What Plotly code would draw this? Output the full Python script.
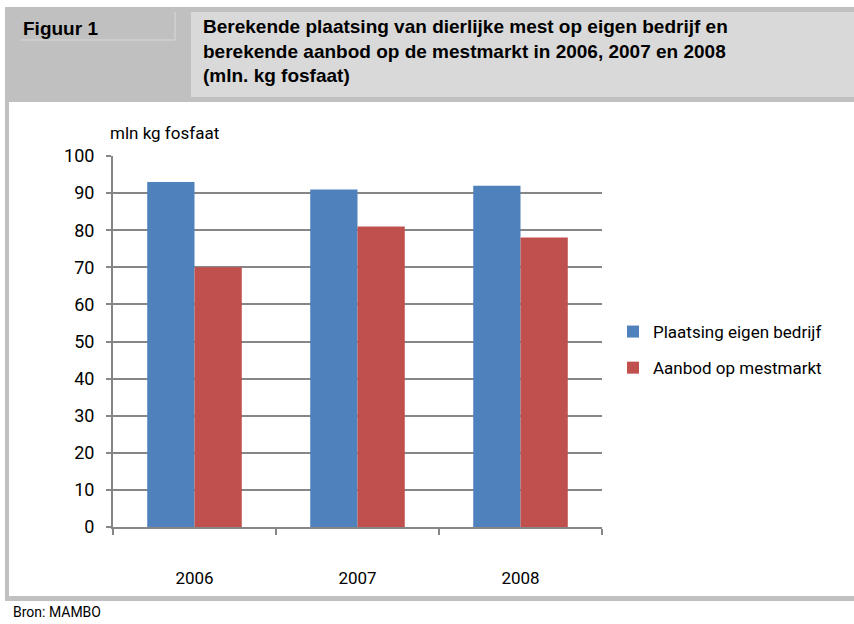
import plotly.graph_objects as go

JAREN = ["2006", "2007", "2008"]
PLAATSING = [93, 91, 92]
AANBOD = [70, 81, 78]
Y_TICKS = [0, 10, 20, 30, 40, 50, 60, 70, 80, 90, 100]

_BLAUW = "#4f81bd"
_ROOD = "#c0504d"
_RAND = "#c0c0c0"
_CEL = "#d9d9d9"
_AS = "#868686"
_FONT = "Roboto, Liberation Sans, sans-serif"
_KOP = "Liberation Sans, Arial, sans-serif"

W, H = 854, 624
L, R, T, B = 113, 602, 156, 527


def _px(x):
    return (x - L) / (R - L)


def _py(y):
    return (B - y) / (B - T)


def _rect(x0, y0, x1, y1, kleur):
    return dict(type="rect", xref="paper", yref="paper", layer="below",
                x0=_px(x0), x1=_px(x1), y0=_py(y1), y1=_py(y0),
                fillcolor=kleur, line_width=0)


fig = go.Figure()
fig.add_trace(go.Bar(x=JAREN, y=PLAATSING, name="Plaatsing eigen bedrijf", legendgroup="a",
                     marker=dict(color=_BLAUW, line=dict(width=0))))
fig.add_trace(go.Bar(x=JAREN, y=AANBOD, name="Aanbod op mestmarkt", legendgroup="b",
                     marker=dict(color=_ROOD, line=dict(width=0))))

shapes = [
    _rect(5, 7, 854, 102, _RAND),          # kopband
    _rect(191, 12, 854, 97, _CEL),         # titelcel
    _rect(5, 102, 9, 601, _RAND),          # linkerrand
    _rect(5, 596, 854, 601, _RAND),        # onderrand
    dict(type="line", xref="paper", yref="paper", layer="below",
         x0=_px(21), x1=_px(175), y0=_py(40), y1=_py(40), line=dict(color=_CEL, width=1)),
    dict(type="line", xref="paper", yref="paper", layer="below",
         x0=_px(175), x1=_px(175), y0=_py(12), y1=_py(40), line=dict(color=_CEL, width=1)),
]

annotations = [
    dict(text="<b>Figuur 1</b>", x=_px(21), y=_py(28), xanchor="left", yanchor="middle",
         font=dict(size=19, color="#000000", family=_KOP)),
    dict(text="<b>Berekende plaatsing van dierlijke mest op eigen bedrijf en<br>"
              "berekende aanbod op de mestmarkt in 2006, 2007 en 2008<br>"
              "(mln. kg fosfaat)</b>",
         x=_px(201), y=_py(14), xanchor="left", yanchor="top", align="left",
         font=dict(size=19, color="#000000", family=_KOP)),
    dict(text="mln kg fosfaat", x=_px(108), y=_py(133), xanchor="left", yanchor="middle",
         font=dict(size=17, color="#000000")),
    dict(text="Bron: MAMBO", x=_px(11), y=_py(612), xanchor="left", yanchor="middle",
         font=dict(size=14, color="#000000")),
]
for a in annotations:
    a.update(xref="paper", yref="paper", showarrow=False)

fig.update_layout(
    width=W, height=H,
    margin=dict(l=L, r=W - R, t=T, b=H - B, pad=0),
    paper_bgcolor="#ffffff",
    plot_bgcolor="rgba(0,0,0,0)",
    font=dict(family=_FONT, size=17, color="#000000"),
    barmode="group",
    bargap=0.42,
    bargroupgap=0,
    showlegend=True,
    legend=dict(x=_px(613), y=_py(314), xanchor="left", yanchor="top",
                bgcolor="rgba(0,0,0,0)", font=dict(size=17), tracegroupgap=11,
                itemwidth=30, traceorder="grouped"),
    shapes=shapes,
    annotations=annotations,
    xaxis=dict(showline=True, linecolor=_AS, linewidth=2, ticks="outside",
               tickson="boundaries", ticklen=6, tickcolor=_AS, tickwidth=2,
               showgrid=False, tickfont=dict(size=17), ticklabelstandoff=35),
    yaxis=dict(range=[0, 100], tickvals=Y_TICKS, showline=True, linecolor=_AS, linewidth=2,
               ticks="outside", ticklen=5, tickcolor=_AS, tickwidth=2,
               showgrid=True, gridcolor=_AS, gridwidth=2, zeroline=False,
               tickfont=dict(size=18), ticklabelstandoff=8),
)

fig.write_html("out.html", config={"displayModeBar": False},
               post_script="document.body.style.margin='0';document.body.style.overflow='hidden';")
